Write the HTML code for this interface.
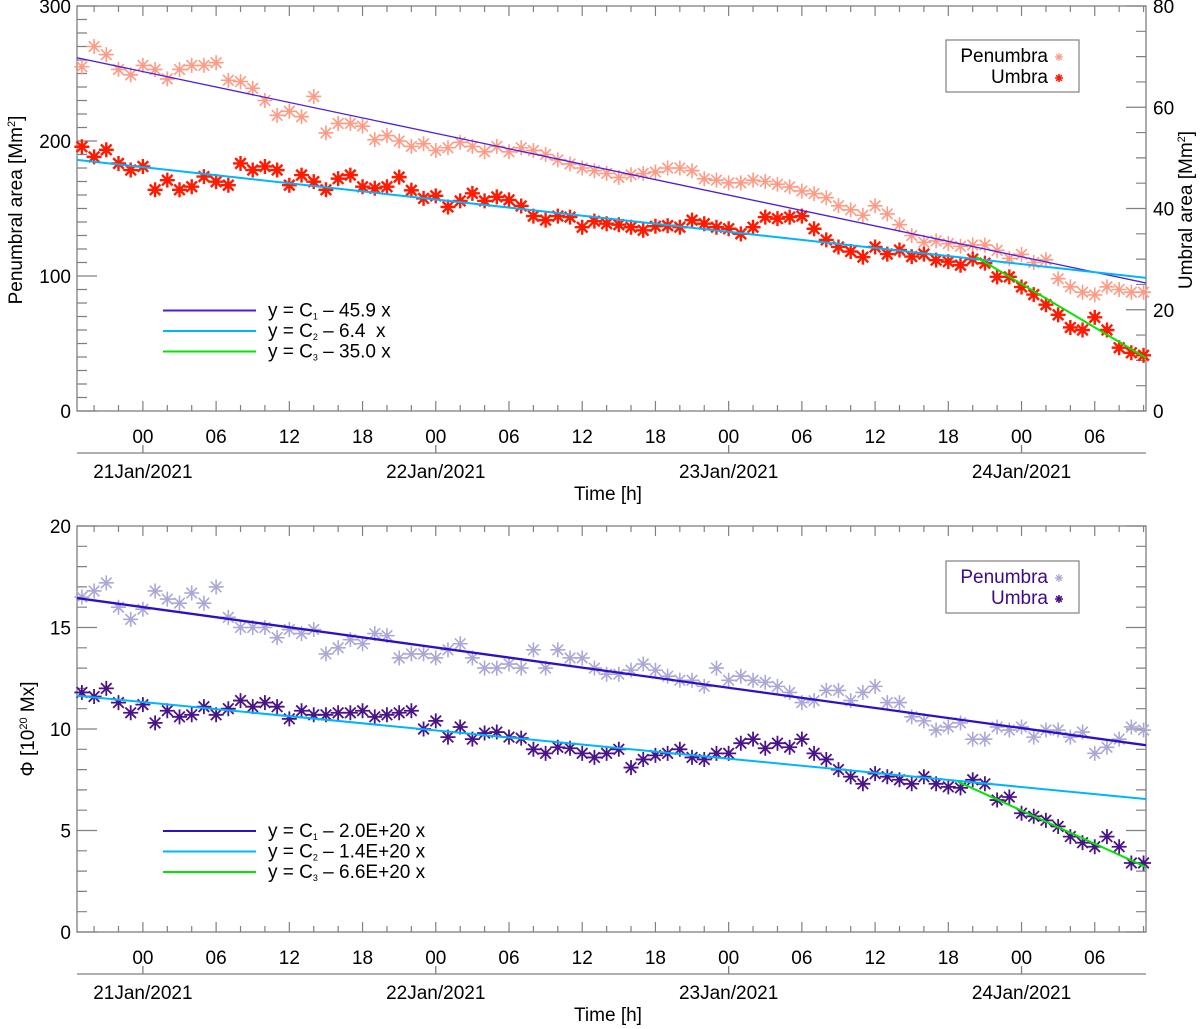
<!DOCTYPE html>
<html><head><meta charset="utf-8"><style>
html,body{margin:0;padding:0;background:#fff;}
svg{display:block;font-family:"Liberation Sans",sans-serif;}
text{white-space:pre;}
</style></head><body>
<svg id="chart" width="1200" height="1029" viewBox="0 0 1200 1029" xmlns="http://www.w3.org/2000/svg"></svg>
<script>
// hours since 21 Jan 2021 00:00
const hours = [];
for (let h = -5; h <= 82; h++) hours.push(h);
const areaPenumbra = [255,270,264,253,249,256,253,246,253,256,256,258,245,244,239,230,219,222,218,233,206,213,213,211,201,204,200,196,198,193,195,199,196,192,196,192,195,193,190,186,183,180,178,176,173,175,176,177,180,180,178,172,171,169,169,171,170,168,166,163,161,158,152,149,145,152,146,138,130,125,126,124,122,123,123,119,113,116,110,112,98,92,88,86,92,90,88,88];
const areaUmbra = [52.2,50.2,51.6,48.9,47.6,48.3,43.7,45.6,43.7,44.3,46.3,45.3,44.6,48.9,47.6,48.3,47.6,44.6,46.6,45.3,43.7,45.9,46.6,44.3,44,44.3,46.2,43.6,42,42.5,40.3,41.5,43,41.5,42.3,41.7,40.5,38.5,37.7,38.5,38.3,36.3,37.5,37,36.8,36.3,35.7,36.5,36.6,36.3,37.7,37,36.3,36,35,36.3,38.3,38,38.3,38.5,36,33.8,32.4,31.5,30.4,32.4,31,31.8,30.5,31,29.8,29.5,28.8,30,29.2,26.5,26.5,24.5,23,21,19,16.5,16,18.5,16,12.5,11.5,11];
const fluxPenumbra = [16.5,16.8,17.2,16.0,15.4,15.9,16.8,16.4,16.2,16.7,16.2,17.0,15.5,15.0,15.0,15.0,14.5,14.9,14.7,14.9,13.7,14.0,14.4,14.2,14.7,14.6,13.5,13.7,13.7,13.5,13.9,14.2,13.5,13.0,13.0,13.2,13.0,13.9,13.0,13.9,13.5,13.5,13.0,12.7,12.7,12.9,13.2,12.9,12.6,12.4,12.4,12.1,13.0,12.4,12.6,12.4,12.3,12.1,11.8,11.3,11.4,11.9,11.9,11.4,11.8,12.1,11.3,11.3,10.6,10.4,9.95,10.1,10.3,9.5,9.5,10.1,9.95,10.1,9.6,9.95,9.95,9.6,9.85,8.8,9.1,9.5,10.1,9.95];
const fluxUmbra = [11.8,11.6,12.0,11.3,10.8,11.2,10.3,10.9,10.6,10.7,11.1,10.7,11.0,11.4,11.1,11.3,11.1,10.5,10.9,10.7,10.7,10.8,10.8,10.9,10.6,10.7,10.8,10.9,10.0,10.4,9.6,10.1,9.5,9.8,9.85,9.6,9.55,9.0,8.8,9.1,9.05,8.8,8.6,8.8,9.0,8.1,8.5,8.7,8.8,9.0,8.6,8.5,8.8,8.8,9.3,9.5,9.05,9.3,9.1,9.5,8.8,8.5,8.0,7.65,7.3,7.8,7.65,7.5,7.3,7.65,7.3,7.15,7.1,7.5,7.3,6.5,6.65,5.85,5.7,5.5,5.2,4.7,4.4,4.2,4.7,4.2,3.4,3.4];
// fit lines: [startHour, startValue, endHour, endValue]
const fitTopPen = [-5.4, 261.7, 82.2, 94.8];
const fitTopUmb = [-5.4, 49.6, 82.2, 26.3];
const fitTopSteep = [68.3, 30.4, 82.2, 10.5];
const fitBotPen = [-5.4, 16.45, 82.2, 9.2];
const fitBotUmb = [-5.4, 11.64, 82.2, 6.55];
const fitBotSteep = [66.8, 7.4, 82.2, 3.2];
const hourTickLabels = ['00','06','12','18','00','06','12','18','00','06','12','18','00','06'];
const dateLabels = ['21Jan/2021','22Jan/2021','23Jan/2021','24Jan/2021'];
const topLegendFits = ['– 45.9 x','– 6.4  x','– 35.0 x'];
const botLegendFits = ['– 2.0E+20 x','– 1.4E+20 x','– 6.6E+20 x'];

const NS = 'http://www.w3.org/2000/svg';
const svg = document.getElementById('chart');
function mk(tag, attrs, parent) {
  const e = document.createElementNS(NS, tag);
  for (const k in attrs) e.setAttribute(k, attrs[k]);
  (parent || svg).appendChild(e);
  return e;
}
const X0 = 77, X1 = 1146;
const hMin = -5.4, hMax = 82.2;
function xs(h) { return X0 + (h - hMin) / (hMax - hMin) * (X1 - X0); }
const AX = '#808080';
const FS = 19;

function star(g, x, y, s, color, sw) {
  const d = s / 2, q = d * 0.707;
  mk('path', {d: `M${x-d},${y}H${x+d}M${x},${y-d}V${y+d}M${x-q},${y-q}L${x+q},${y+q}M${x-q},${y+q}L${x+q},${y-q}`, stroke: color, 'stroke-width': sw, fill: 'none'}, g);
}

function panel(cfg) {
  const top = cfg.top, bot = cfg.bot;
  const ysL = v => bot - (v - 0) / cfg.lMax * (bot - top);
  const ysR = v => bot - v / cfg.rMax * (bot - top);
  const g = mk('g', {});
  
  
  const fr = mk('rect', {x: X0, y: top, width: X1 - X0, height: bot - top, fill: 'none', stroke: AX, 'stroke-width': 1.3}, g);
  
  
  let tickPath = '';
  for (let h = -4; h <= 82; h += 2) {
    const x = xs(h), L = (h % 6 === 0) ? 10 : 6;
    tickPath += `M${x},${bot}v${-L}M${x},${top}v${L}`;
  }
  for (let v = 0; v <= cfg.lMax + 1e-9; v += cfg.lMinor) {
    const y = ysL(v), major = Math.abs(v / cfg.lMajor - Math.round(v / cfg.lMajor)) < 1e-6;
    const L = major ? 20 : 10;
    tickPath += `M${X0},${y}h${L}`;
  }
  for (let v = 0; v <= cfg.rMax + 1e-9; v += cfg.rMinor) {
    const y = ysR(v), major = Math.abs(v / cfg.rMajor - Math.round(v / cfg.rMajor)) < 1e-6;
    const L = major ? 20 : 10;
    tickPath += `M${X1},${y}h${-L}`;
  }
  const tk = mk('path', {d: tickPath, stroke: AX, 'stroke-width': 1.2, fill: 'none'}, g);
  
  
  hourTickLabels.forEach((lab, i) => {
    const t = mk('text', {x: xs(i * 6), y: bot + 32, 'font-size': FS, 'text-anchor': 'middle'}, g);
    t.textContent = lab;
    
    
  });
  for (let v = 0; v <= cfg.lMax + 1e-9; v += cfg.lMajor) {
    const t = mk('text', {x: X0 - 6, y: ysL(v) + 7, 'font-size': FS, 'text-anchor': 'end'}, g);
    t.textContent = String(v);
    
    
  }
  if (cfg.rLabels) {
    for (let v = 0; v <= cfg.rMax + 1e-9; v += cfg.rMajor) {
      const t = mk('text', {x: X1 + 7, y: ysR(v) + 7, 'font-size': FS, 'text-anchor': 'start'}, g);
      t.textContent = String(v);
      
      
    }
  }
  const ay = bot + 42;
  let dp = `M${X0},${ay}H${X1}`;
  dateLabels.forEach((d, i) => { dp += `M${xs(i * 24)},${ay}v-8`; });
  const da = mk('path', {d: dp, stroke: AX, 'stroke-width': 1.3, fill: 'none'}, g);
  
  
  dateLabels.forEach((d, i) => {
    const t = mk('text', {x: xs(i * 24), y: ay + 25, 'font-size': FS, 'text-anchor': 'middle'}, g);
    t.textContent = d;
    
    
  });
  const xt = mk('text', {x: 608, y: ay + 47, 'font-size': FS, 'text-anchor': 'middle'}, g);
  xt.textContent = 'Time [h]';
  
  
  const gp = mk('g', {}, g);
  
  
  hours.forEach((h, i) => star(gp, xs(h), ysL(cfg.pen[i]), 15, cfg.penColor, 1.6));
  const gu = mk('g', {}, g);
  
  
  const yU = cfg.umbOnRight ? ysR : ysL;
  hours.forEach((h, i) => star(gu, xs(h), yU(cfg.umb[i]), 15, cfg.umbColor, cfg.umbSW));
  function fit(f, yf, color, w, name) {
    const l = mk('line', {x1: xs(f[0]), y1: yf(f[1]), x2: xs(f[2]), y2: yf(f[3]), stroke: color, 'stroke-width': w}, g);
    
    
  }
  fit(cfg.fitPen, ysL, cfg.fitPenColor, cfg.fitPenW, 'penumbra-fit-line');
  fit(cfg.fitUmb, yU, '#00b4ff', 2, 'umbra-fit-line');
  fit(cfg.fitSteep, yU, '#00e600', 2, 'umbra-decay-fit-line');
  const lc = [cfg.fitPenColor, '#00b4ff', '#00e600'];
  const subs = ['1','2','3'];
  cfg.fitLegend.forEach((s, i) => {
    const y = cfg.legY + i * 20.5;
    const l = mk('line', {x1: 163, y1: y, x2: 256, y2: y, stroke: lc[i], 'stroke-width': 2}, g);
    
    
    const t = mk('text', {x: 268, y: y + 6, 'font-size': FS}, g);
    
    
    t.innerHTML = `y = C<tspan font-size="9" dy="3">${subs[i]}</tspan><tspan dy="-3"> ${s}</tspan>`;
  });
  const lb = mk('rect', {x: 946, y: cfg.boxY, width: 133, height: 52, fill: '#fff', stroke: AX, 'stroke-width': 1.2}, g);
  
  
  [['Penumbra', cfg.penColor, 1.2], ['Umbra', cfg.umbColor, 1.6]].forEach((e, i) => {
    const y = cfg.boxY + 16 + i * 21;
    const t = mk('text', {x: 1048, y: y + 6, 'font-size': FS, 'text-anchor': 'end', fill: cfg.legText}, g);
    t.textContent = e[0];
    
    
    star(g, 1059, y + 1, 8, e[1], e[2]);
  });
}

panel({name: 'area-panel', top: 6, bot: 411, lMax: 300, lMinor: 10, lMajor: 100, rMax: 80, rMinor: 5, rMajor: 20, rLabels: true,
  pen: areaPenumbra, umb: areaUmbra, umbOnRight: true, penColor: '#ff9a84', umbColor: '#ff1a00', umbSW: 2.4,
  fitPen: fitTopPen, fitUmb: fitTopUmb, fitSteep: fitTopSteep, fitPenColor: '#4a1ee0', fitPenW: 1.3,
  fitLegend: topLegendFits, legY: 310.5, boxY: 40, legText: '#000'});
panel({name: 'flux-panel', top: 526, bot: 932, lMax: 20, lMinor: 1, lMajor: 5, rMax: 20, rMinor: 1, rMajor: 5, rLabels: false,
  pen: fluxPenumbra, umb: fluxUmbra, umbOnRight: false, penColor: '#aba8d6', umbColor: '#4a1488', umbSW: 1.8,
  fitPen: fitBotPen, fitUmb: fitBotUmb, fitSteep: fitBotSteep, fitPenColor: '#2c10c8', fitPenW: 2.3,
  fitLegend: botLegendFits, legY: 831, boxY: 561, legText: '#3a0c86'});

function vtext(x, y, html, name) {
  const t = mk('text', {x: x, y: y, 'font-size': FS, 'text-anchor': 'middle', transform: `rotate(-90 ${x} ${y})`});
  t.innerHTML = html;
  
  
}
vtext(22, 210, 'Penumbral area [Mm<tspan font-size="11" dy="-7">2</tspan><tspan dy="7">]</tspan>', 'y-axis-title-left');
vtext(1192, 210, 'Umbral area [Mm<tspan font-size="11" dy="-7">2</tspan><tspan dy="7">]</tspan>', 'y-axis-title-right');
vtext(34, 729, 'Φ [10<tspan font-size="11" dy="-7">20</tspan><tspan dy="7"> Mx]</tspan>', 'y-axis-title-flux');
</script>
</body></html>
